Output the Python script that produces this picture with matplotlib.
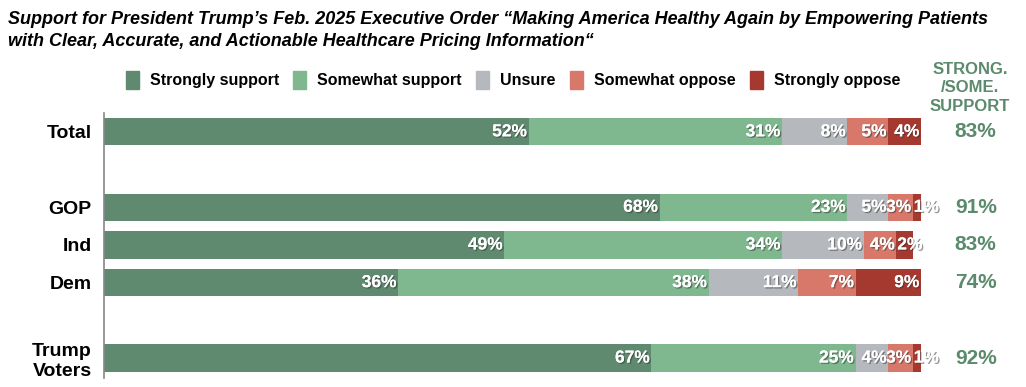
import matplotlib.pyplot as plt
import matplotlib.patheffects as pe
from matplotlib.patches import Patch
import numpy as np

plt.rcParams['font.family'] = ['Liberation Sans', 'DejaVu Sans']

groups = ['Total', 'GOP', 'Ind', 'Dem', 'Trump\nVoters']
ypos = [0, 2, 3, 4, 6]
responses = ['Strongly support', 'Somewhat support', 'Unsure', 'Somewhat oppose', 'Strongly oppose']
strongly_support = [52, 68, 49, 36, 67]
somewhat_support = [31, 23, 34, 38, 25]
unsure = [8, 5, 10, 11, 4]
somewhat_oppose = [5, 3, 4, 7, 3]
strongly_oppose = [4, 1, 2, 9, 1]
net_support = [83, 91, 83, 74, 92]

colors = ['#5f8a6f', '#7fb78e', '#b5b8bd', '#d8786b', '#a5392f']
green_txt = '#5b8a6c'

series = [strongly_support, somewhat_support, unsure, somewhat_oppose, strongly_oppose]

fig = plt.figure(figsize=(10.26, 3.87), dpi=100)
ax = fig.add_axes([104/1026, 9/387, 817/1026, 265/387])

shadow = [pe.withSimplePatchShadow(offset=(1, -1), shadow_rgbFace='#333333', alpha=0.5), pe.Normal()]

left = np.zeros(len(groups))
for vals, col, name in zip(series, colors, responses):
    vals = np.array(vals, dtype=float)
    ax.barh(ypos, vals, left=left, height=0.72, color=col, label=name, linewidth=0)
    for y, l, v in zip(ypos, left, vals):
        if v <= 2:
            # too narrow: start the label at the segment start
            ax.text(l + 0.1, y, f'{int(v)}%', ha='left', va='center', color='white',
                    fontsize=12.5, fontweight='bold', path_effects=shadow, clip_on=False)
        else:
            ax.text(min(l + v, 100) - 0.2, y, f'{int(v)}%', ha='right', va='center', color='white',
                    fontsize=12.5, fontweight='bold', path_effects=shadow)
    left += vals

ax.set_xlim(0, 100)
ax.set_ylim(6.53, -0.5)
ax.set_yticks(ypos)
ax.set_yticklabels(groups, fontsize=14, fontweight='bold', linespacing=1.2)
ax.tick_params(axis='y', length=0, pad=9)
ax.set_xticks([])
for s in ['top', 'right', 'bottom']:
    ax.spines[s].set_visible(False)
ax.spines['left'].set_color('#888888')
ax.spines['left'].set_linewidth(1.2)

for y, n in zip(ypos, net_support):
    ax.text(106.7, y, f'{n}%', ha='center', va='center', color=green_txt,
            fontsize=15, fontweight='bold', clip_on=False)

fig.text(970/1026, 1 - 88/387, 'STRONG.\n/SOME.\nSUPPORT', ha='center', va='center',
         color=green_txt, fontsize=12, fontweight='bold', linespacing=1.3)

fig.text(8/1026, 1 - 20/387, 'Support for President Trump\u2019s Feb. 2025 Executive Order \u201cMaking America Healthy Again by Empowering Patients',
         ha='left', va='center', fontsize=13, fontweight='bold', style='italic')
fig.text(8/1026, 1 - 42/387, 'with Clear, Accurate, and Actionable Healthcare Pricing Information\u201c',
         ha='left', va='center', fontsize=13, fontweight='bold', style='italic')

handles = [Patch(color=c) for c in colors]
fig.legend(handles, responses, ncol=5, loc='center', bbox_to_anchor=(513/1026, 1 - 80/387),
           frameon=False, handlelength=0.8, handleheight=1.3, handletextpad=0.7, columnspacing=0.9,
           prop={'size': 11.5, 'weight': 'bold'})

fig.savefig('out.png', dpi=100)
